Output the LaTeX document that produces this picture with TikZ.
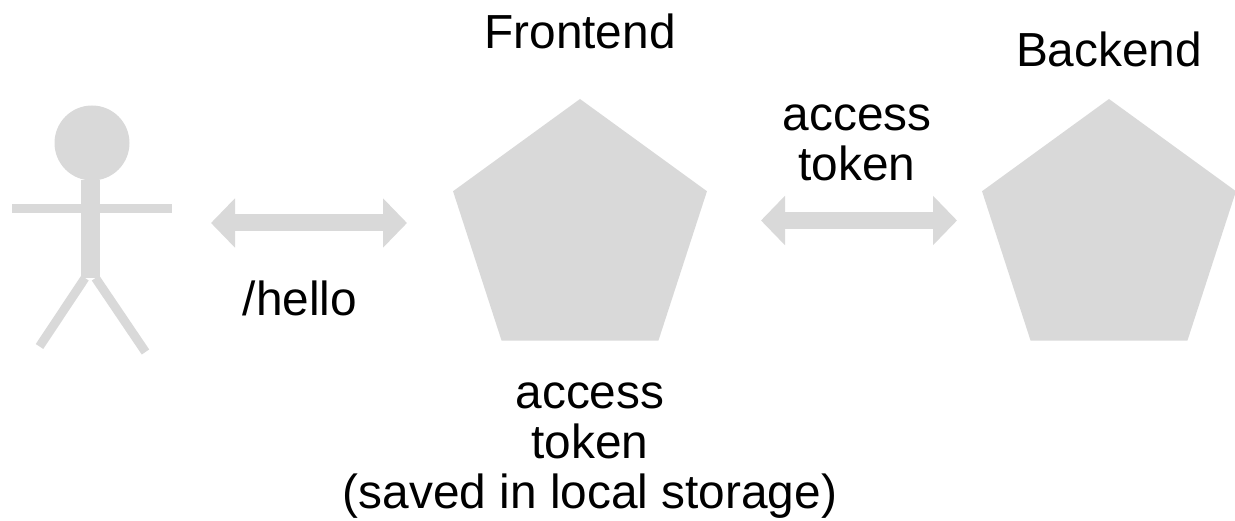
\documentclass[tikz,border=0pt]{standalone}
\usepackage{fontspec}
\setmainfont{Liberation Sans}
\usetikzlibrary{arrows.meta,shapes.geometric}
\definecolor{shapegray}{HTML}{D9D9D9}
\tikzset{
  label text/.style={font=\fontsize{27.2}{28.45}\selectfont,align=center,inner sep=0pt,text=black},
  server/.style={regular polygon,regular polygon sides=5,minimum size=5.34cm,inner sep=0pt,fill=shapegray},
  limb/.style={draw=shapegray,line width=0.18cm},
  link/.style={draw=shapegray,line width=0.34cm,{Triangle[length=0.48cm,width=0.96cm]}-{Triangle[length=0.48cm,width=0.96cm]}}
}
\begin{document}
\begin{tikzpicture}
\useasboundingbox (0,0) rectangle (24.7,10.42);
%%\draw[help lines] (0,0) grid (24,10);
% user
\node [circle,fill=shapegray,minimum size=1.5cm,inner sep=0pt] (head) at (1.84,7.56) {};
\coordinate (neck) at (1.81,6.82);
\coordinate (hip) at (1.81,4.86);
\coordinate (lefthand) at (0.24,6.25);
\coordinate (righthand) at (3.44,6.25);
\coordinate (leftleg) at (1.70,4.86);
\coordinate (rightleg) at (1.91,4.86);
\coordinate (leftfoot) at (0.79,3.49);
\coordinate (rightfoot) at (2.91,3.38);
\draw [limb] (lefthand) -- (righthand);
\draw [limb] (leftleg) -- (leftfoot);
\draw [limb] (rightleg) -- (rightfoot);
\draw [shapegray,line width=0.38cm] (neck) -- (hip);
% servers
\node [server] (frontend) at (11.60,5.77) {};
\node [server] (backend) at (22.18,5.77) {};
% links
\coordinate (helloa) at (4.22,5.96);
\coordinate (hellob) at (8.14,5.96);
\coordinate (tokena) at (15.22,6.01);
\coordinate (tokenb) at (19.14,6.01);
\draw [link] (helloa) -- (hellob);
\draw [link] (tokena) -- (tokenb);
% labels
\node [label text] (frontendlabel) at (11.60,9.79) {Frontend};
\node [label text] (backendlabel) at (22.18,9.43) {Backend};
\node [label text] (tokenlabel) at (17.14,7.57) {access\\token};
\node [label text] (hellolabel) at (6.00,4.46) {/hello};
\node [label text] (storagelabel) at (11.80,1.41) {access\\token\\(saved in local storage)};
\end{tikzpicture}
\end{document}
